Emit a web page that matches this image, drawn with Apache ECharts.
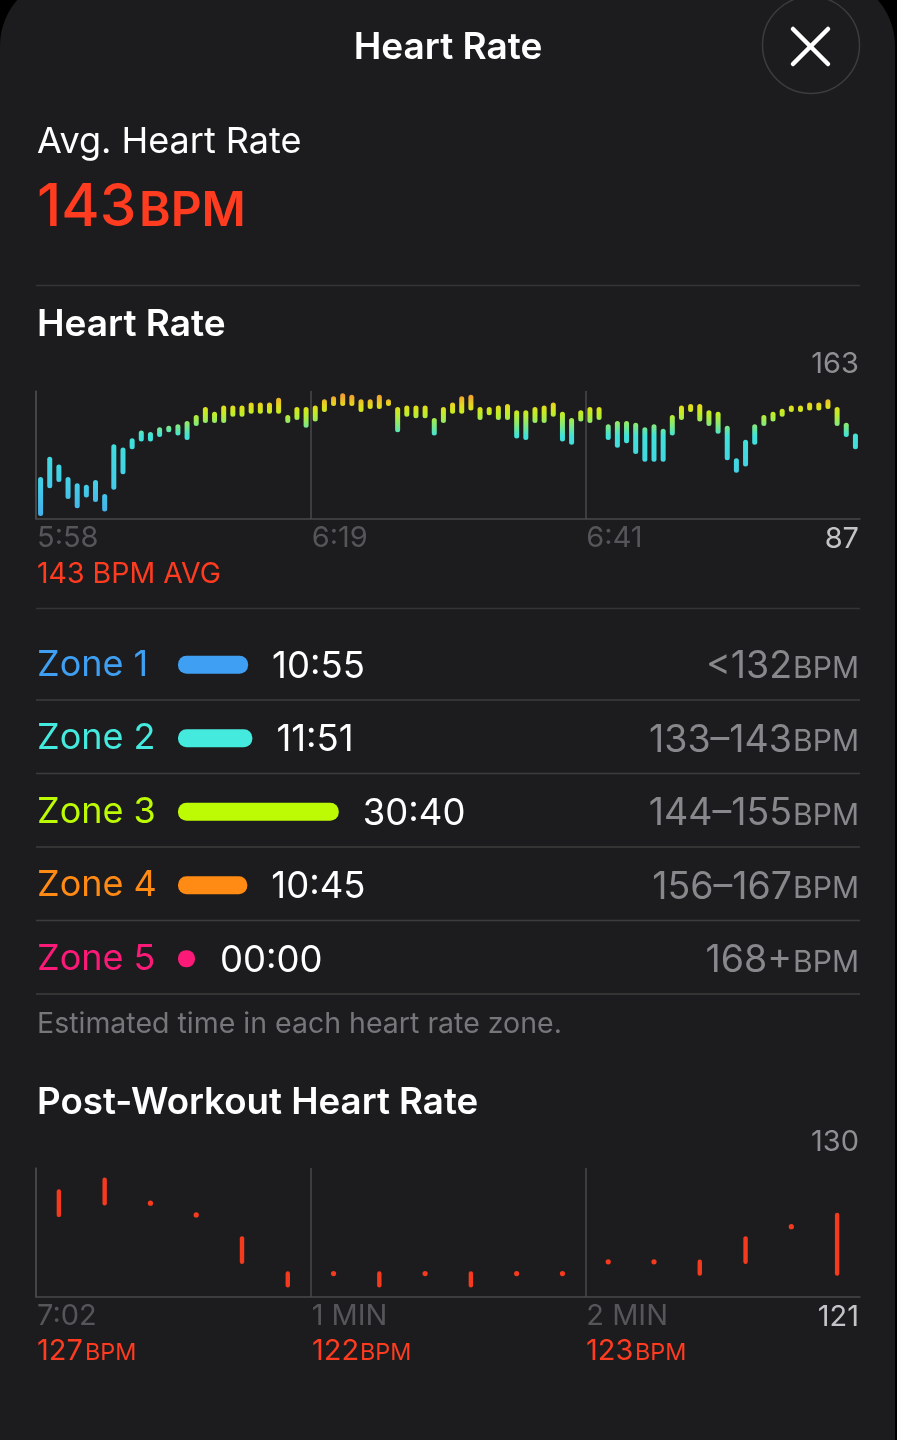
<!DOCTYPE html>
<html><head><meta charset="utf-8">
<style>html,body{margin:0;padding:0;background:#000}#c{width:897px;height:1440px}</style>
<script src="https://cdn.jsdelivr.net/npm/echarts@6/dist/echarts.min.js"></script>
</head><body><div id="c"></div>
<script>
const hrLow  = [87,105,109,98,92,99,96,90,104,114,130,135,135,138,141,139,136,145,147,147,147,151,151,153,153,153,153,147,149,144,148,
154,158,158,158,154,156,156,158,141,151,150,150,139,147,153,153,155,149,152,149,149,137,136,147,147,151,135,133,148,147,149,
136,131,134,127,122,122,122,139,149,154,148,145,140,123,115,119,133,145,148,151,154,154,155,155,156,145,138,130];
const hrHigh = [109,122,117,109,105,104,107,98,130,128,134,139,138,141,142,143,145,149,154,151,155,155,155,157,157,157,160,149,154,154,155,
159,161,163,162,159,159,162,159,154,155,155,155,147,154,157,161,162,154,154,155,156,152,152,154,155,157,151,147,152,154,154,
143,145,145,144,141,143,140,149,155,156,156,152,151,142,121,133,143,149,151,153,155,155,157,157,159,154,144,137];
const hrTickLabels = {0:'5:58',30:'6:19',60:'6:41'};
const postLow  = [127,128,128,127,123,121,122,121,122,121,122,122,123,123,122,123,126,122];
const postHigh = [129,130,128,127,125,122,122,122,122,122,122,122,123,123,123,125,126,127];
const postTickLabels = {0:'7:02',6:'1 MIN',12:'2 MIN'};
const zoneNames = ['Zone 1','Zone 2','Zone 3','Zone 4','Zone 5'];
const zoneSeconds = [655,711,1840,645,0];
const zoneTimes = ['10:55','11:51','30:40','10:45','00:00'];
const zoneRanges = ['<132','133–143','144–155','156–167','168+'];
const zoneColors = ['#3f9ff2','#45eade','#bdfb05','#ff8a14','#fb1a78'];
const hrStops = [[87,'#44b2ea'],[105,'#44cce8'],[137,'#40e2da'],[146,'#94ea62'],[152,'#c6ec22'],[157,'#e6d81e'],[163,'#f0a030']];

const FF = 'Inter, "Noto Sans", sans-serif';
const RED = '#ff3b20';
// y is given as the text baseline; the library anchors text at its top, 0.81em above the baseline
const txt = (text,x,base,size,fill,o={}) => ({type:'text',x,y:base-0.81*size,silent:true,z:5,style:{text,fill,
  font:`${o.w||400} ${size}px ${FF}`,textAlign:o.a||'left'}});
const hline = (y,c) => ({type:'line',silent:true,shape:{x1:36,y1:y,x2:860,y2:y},style:{stroke:c,lineWidth:1.3},z:1});

const axisText = {color:'#55555a',fontSize:29,fontFamily:FF,align:'left',margin:5,verticalAlign:'top',padding:[0,0,0,1]};
const axisLine = {show:true,lineStyle:{color:'#48484c',width:1.5}};
const splitL = {show:true,showMaxLine:false,lineStyle:{color:'#48484c',width:1.5}};

function vbar(params,api,stroke,width){
  const x=api.value(0), lo=api.coord([x,api.value(1)]), hi=api.coord([x,api.value(2)]);
  const s= typeof stroke==='function'?stroke(api):stroke;
  if(lo[1]===hi[1]) return {type:'circle',shape:{cx:lo[0],cy:lo[1],r:width/2+0.4},style:{fill:s}};
  return {type:'line',shape:{x1:lo[0],y1:lo[1],x2:hi[0],y2:hi[1]},style:{stroke:s,lineWidth:width,lineCap:'round'}};
}
function hrStroke(api){
  const y0=api.coord([0,hrStops[0][0]])[1], y1=api.coord([0,hrStops[hrStops.length-1][0]])[1];
  const span=hrStops[hrStops.length-1][0]-hrStops[0][0];
  return new echarts.graphic.LinearGradient(0,y0,0,y1,hrStops.map(s=>({offset:(s[0]-hrStops[0][0])/span,color:s[1]})),true);
}
const tb = s => 0.81*s;

const option = {
  backgroundColor:'#000',animation:false,
  grid:[
    {left:36,width:824,top:391,height:128},
    {left:36,width:824,top:1168,height:129},
    {left:198,width:661,top:628,height:367.5}
  ],
  xAxis:[
    {gridIndex:0,type:'value',min:0,max:90,interval:30,axisLine,axisTick:{show:false},splitLine:splitL,
     axisLabel:{...axisText,formatter:v=>hrTickLabels[v]||''}},
    {gridIndex:1,type:'value',min:0,max:18,interval:6,axisLine,axisTick:{show:false},splitLine:splitL,
     axisLabel:{...axisText,formatter:v=>postTickLabels[v]||''}},
    {gridIndex:2,type:'value',min:0,max:8640,show:false}
  ],
  yAxis:[
    {gridIndex:0,type:'value',min:83.5,max:166,axisLine:{...axisLine},axisTick:{show:false},axisLabel:{show:false},splitLine:{show:false}},
    {gridIndex:1,type:'value',min:120,max:131,axisLine:{...axisLine},axisTick:{show:false},axisLabel:{show:false},splitLine:{show:false}},
    {gridIndex:2,type:'category',inverse:true,data:zoneNames,axisLine:{show:false},axisTick:{show:false},splitLine:{show:false},
     axisLabel:{margin:161,align:'left',fontSize:36,fontFamily:FF,padding:[4,0,0,0],
       color:(v,i)=>zoneColors[zoneNames.indexOf(v)]}}
  ],
  series:[
    {type:'custom',xAxisIndex:0,yAxisIndex:0,silent:true,clip:false,z:3,
     data:hrLow.map((l,i)=>[i+0.5,l,hrHigh[i]]),
     renderItem:(p,a)=>vbar(p,a,hrStroke,5)},
    {type:'custom',xAxisIndex:1,yAxisIndex:1,silent:true,clip:false,z:3,
     data:postLow.map((l,i)=>[i+0.5,l,postHigh[i]]),
     renderItem:(p,a)=>vbar(p,a,'#f63a1e',4.4)},
    {type:'custom',xAxisIndex:2,yAxisIndex:2,silent:true,clip:false,z:3,
     data:zoneSeconds.map((s,i)=>[s,i]),
     renderItem:(p,a)=>{
       const v=a.value(0), i=a.value(1), e=a.coord([v,i]), z=a.coord([0,i]);
       const h=18, start=z[0]-20, w=v>0?e[0]-start:h;
       const dotH=v>0?h:17;
       return {type:'group',children:[
         {type:'rect',shape:{x:start,y:e[1]-dotH/2,width:v>0?w:dotH,height:dotH,r:dotH/2-0.5},style:{fill:zoneColors[i]}},
         {type:'text',x:start+w+24,y:e[1]+13-tb(36.5),style:{text:zoneTimes[i],fill:'#fff',font:`400 36.5px ${FF}`}},
         {type:'text',x:792,y:e[1]+13.5-tb(37.5),style:{text:zoneRanges[i],fill:'#88888c',font:`400 37.5px ${FF}`,textAlign:'right'}},
         {type:'text',x:859,y:e[1]+13.5-tb(30),style:{text:'BPM',fill:'#88888c',font:`400 30px ${FF}`,textAlign:'right'}}
       ]};
     }}
  ],
  graphic:{elements:[
    {type:'rect',silent:true,z:-10,shape:{x:0,y:-24,width:895,height:1500,r:[70,70,0,0]},style:{fill:'#1c1c1e'}},
    txt('Heart Rate',448,59.5,37,'#fff',{w:600,a:'center'}),
    {type:'circle',silent:true,shape:{cx:811,cy:45,r:48.5},style:{fill:'none',stroke:'rgba(255,255,255,0.14)',lineWidth:1.5}},
    {type:'line',silent:true,shape:{x1:793,y1:29,x2:828,y2:64},style:{stroke:'#fff',lineWidth:4.5,lineCap:'round'}},
    {type:'line',silent:true,shape:{x1:828,y1:29,x2:793,y2:64},style:{stroke:'#fff',lineWidth:4.5,lineCap:'round'}},
    txt('Avg. Heart Rate',37,153,36,'#fff'),
    txt('143',37,226,58.5,RED,{w:500}),
    txt('BPM',139,226,48,RED,{w:600}),
    hline(285.5,'#343438'),
    txt('Heart Rate',37,336,37,'#fff',{w:600}),
    txt('163',859,373,29,'#8e8e93',{a:'right'}),
    txt('87',859,548,29,'#c4c4c8',{a:'right'}),
    txt('143 BPM AVG',37,583,28.5,RED),
    hline(608.5,'#343438'),
    hline(700,'#3c3c3e'),hline(773.5,'#3c3c3e'),hline(847,'#3c3c3e'),hline(920.5,'#3c3c3e'),hline(994,'#3c3c3e'),
    txt('Estimated time in each heart rate zone.',37,1033,28.5,'#77777b'),
    txt('Post-Workout Heart Rate',37,1114,36.7,'#fff',{w:600}),
    txt('130',859,1151,29,'#8e8e93',{a:'right'}),
    txt('121',859,1326,29,'#c4c4c8',{a:'right'}),
    txt('127',37,1360.5,29,RED), txt('BPM',85,1360.5,23.4,RED),
    txt('122',312,1360.5,29,RED), txt('BPM',360,1360.5,23.4,RED),
    txt('123',586,1360.5,29,RED), txt('BPM',635,1360.5,23.4,RED)
  ]}
};
const chart = echarts.init(document.getElementById('c'),null,{renderer:'canvas',width:897,height:1440});
chart.setOption(option);
</script></body></html>
